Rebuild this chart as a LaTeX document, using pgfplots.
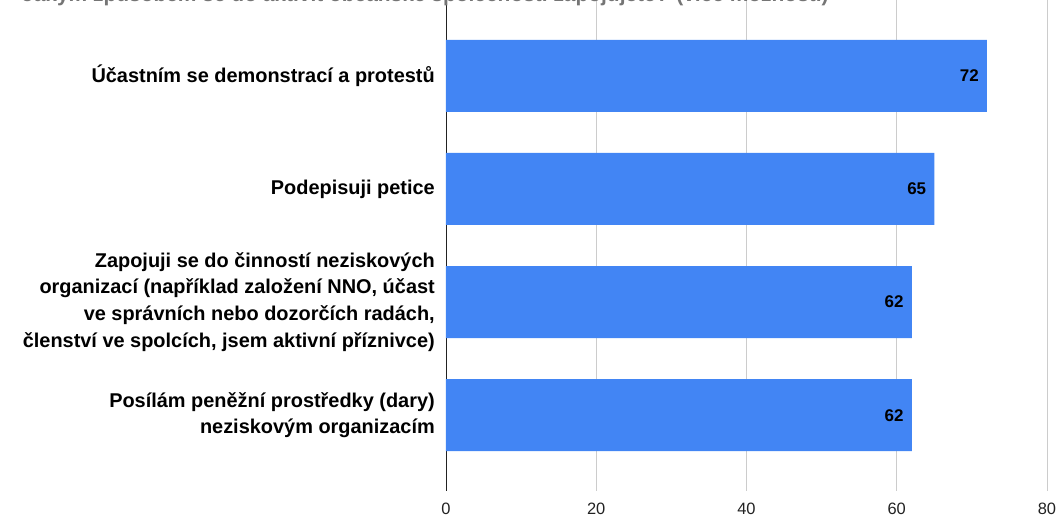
\documentclass[border=0pt]{standalone}
\usepackage{fontspec}
\setmainfont{Liberation Sans}
\usepackage{pgfplots}
\pgfplotsset{compat=1.18}
\definecolor{barblue}{HTML}{4285F4}
\definecolor{gridgray}{HTML}{CCCCCC}
\definecolor{ticktext}{HTML}{222222}
\definecolor{titlegray}{HTML}{757575}

\begin{document}
\begin{tikzpicture}
\begin{axis}[
    at={(0,0)}, anchor=south west,
    xbar,
    bar width=72bp,
    width=601bp, height=491bp,
    scale only axis,
    y dir=reverse,
    xmin=0, xmax=80,
    ymin=-0.67, ymax=3.67,
    xtick={20,40,60,80},
    extra x ticks={0},
    extra x tick style={grid style={draw=ticktext, line width=0.9bp}},
    ytick={0,1,2,3},
    yticklabels={
        {Účastním se demonstrací a protestů},
        {Podepisuji petice},
        {Zapojuji se do činností neziskových\\organizací (například založení NNO, účast\\ve správních nebo dozorčích radách,\\členství ve spolcích, jsem aktivní příznivce)},
        {Posílám peněžní prostředky (dary)\\neziskovým organizacím}},
    yticklabel style={font=\bfseries\fontsize{20}{27}\selectfont, align=right,
        text=black, inner sep=0pt, xshift=-11bp},
    xticklabel style={font=\fontsize{16.5}{18}\selectfont, text=ticktext,
        inner sep=0pt, yshift=-12bp},
    /pgf/number format/assume math mode=true,
    major tick length=0pt,
    xmajorgrids,
    grid style={draw=gridgray, line width=0.9bp},
    axis line style={draw=none},
    nodes near coords,
    every node near coord/.append style={anchor=east, xshift=-8bp,
        inner sep=0pt, font=\bfseries\fontsize{17}{19}\selectfont, text=black},
]
\addplot[fill=barblue, draw=none] coordinates {
    (72,0) (65,1) (62,2) (62,3)
};
\end{axis}
\node[anchor=base west, text=titlegray, inner sep=0pt,
      font=\bfseries\fontsize{21}{25}\selectfont] at (-424bp,489bp)
    {Jakým způsobem se do aktivit občanské společnosti zapojujete? (více možností)};
\pgfresetboundingbox
\useasboundingbox (-446bp,-29bp) rectangle (616bp,491bp);
\end{tikzpicture}
\end{document}
